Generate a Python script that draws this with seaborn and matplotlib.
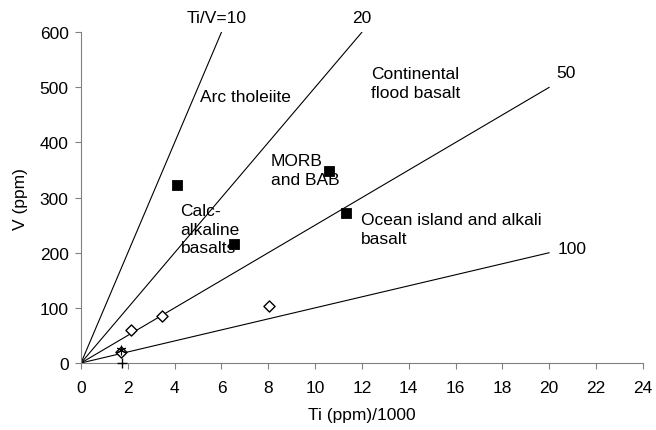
import pandas as pd
import seaborn as sns
import matplotlib.pyplot as plt

### reference lines Ti/V (start at origin, end points)
ratio_labels = ['Ti/V=10', '20', '50', '100']
line_end_ti = [6, 12, 20, 20]
line_end_v = [600, 600, 500, 200]

### sample points
square_ti = [4.1, 6.55, 10.6, 11.3]
square_v = [322, 215, 348, 272]
diamond_ti = [1.7, 2.15, 3.45, 8.05]
diamond_v = [20, 60, 85, 103]
star_ti = [1.72]
star_v = [24]
plus_ti = [1.75]
plus_v = [0]

### field names
field_text = ['Arc tholeiite', 'Continental\nflood basalt', 'MORB\nand BAB',
              'Calc-\nalkaline\nbasalts', 'Ocean island and alkali\nbasalt']
field_x = [5.1, 12.4, 8.1, 4.25, 11.95]
field_y = [484, 508, 350, 243, 243]

sns.set_style('ticks')
plt.rcParams['font.family'] = ['Liberation Sans', 'DejaVu Sans']
plt.rcParams['text.color'] = 'black'
plt.rcParams['axes.labelcolor'] = 'black'
plt.rcParams['xtick.labelcolor'] = 'black'
plt.rcParams['ytick.labelcolor'] = 'black'

fig = plt.figure(figsize=(6.56, 4.31), dpi=100)
ax = fig.add_axes([0.1235, 0.1555, 0.8565, 0.7675])

rows = []
for lab, xe, ye in zip(ratio_labels, line_end_ti, line_end_v):
    rows.append({'line': lab, 'ti': 0, 'v': 0})
    rows.append({'line': lab, 'ti': xe, 'v': ye})
lines_df = pd.DataFrame(rows)
sns.lineplot(data=lines_df, x='ti', y='v', units='line', estimator=None,
             color='black', lw=0.8, ax=ax, sort=False)

sns.scatterplot(x=square_ti, y=square_v, marker='s', s=55, color='black',
                edgecolor='black', ax=ax, zorder=3)
sns.scatterplot(x=diamond_ti, y=diamond_v, marker='D', s=32, facecolor='white',
                edgecolor='black', linewidth=1.0, ax=ax, zorder=3)
sns.scatterplot(x=star_ti, y=star_v, marker=(6, 2, 0), s=40, color='black',
                linewidth=0.8, ax=ax, zorder=4)
sns.scatterplot(x=plus_ti, y=plus_v, marker='+', s=60, color='black',
                linewidth=1.0, ax=ax, zorder=4, clip_on=False)

fs = 12.5

### labels at line ends
label_x = [4.5, 11.6, 20.3, 20.35]
label_y = [627, 627, 527, 207]
for lab, lx, ly in zip(ratio_labels, label_x, label_y):
    ax.text(lx, ly, lab, fontsize=fs, ha='left', va='center', clip_on=False)

for t, fx, fy in zip(field_text, field_x, field_y):
    ax.text(fx, fy, t, fontsize=fs, ha='left', va='center', linespacing=1.3)

ax.set_xlim(0, 24)
ax.set_ylim(0, 600)
ax.set_xticks(range(0, 25, 2))
ax.set_yticks(range(0, 601, 100))
ax.set_xlabel('Ti (ppm)/1000', fontsize=fs, labelpad=9)
ax.set_ylabel('V (ppm)', fontsize=fs, labelpad=8)
ax.tick_params(labelsize=fs, length=4, color='#808080', width=0.8, pad=5)
ax.tick_params(axis='x', pad=8)
sns.despine(ax=ax)
for side in ['left', 'bottom']:
    ax.spines[side].set_color('#808080')
    ax.spines[side].set_linewidth(0.8)

fig.savefig('out.png', dpi=100)
